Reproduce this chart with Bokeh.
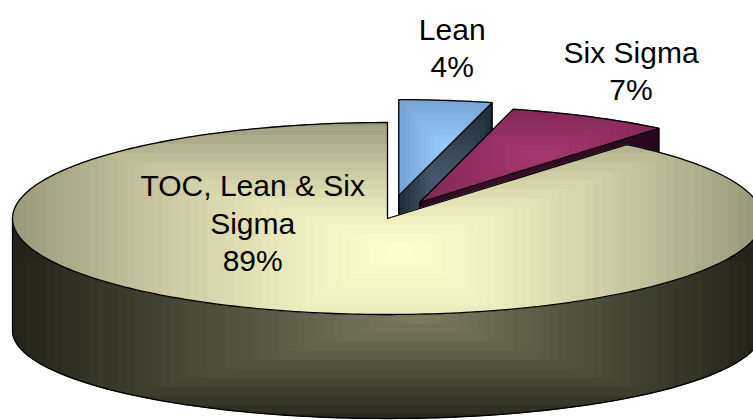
import math
import textwrap
import numpy as np
from bokeh.plotting import figure
from bokeh.models import Range1d, ColumnDataSource
from bokeh.core.properties import value
from bokeh.embed import file_html
from bokeh.resources import INLINE

# ---------------- data ----------------
categories = ["Lean", "Six Sigma", "TOC, Lean & Six Sigma"]
values = [4, 7, 89]

# ---------------- layout / style ----------------
W, H = 753, 420
CX, CY = 387.0, 218.0          # centre of top ellipse (page px)
A, B = 375.0, 96.0             # top ellipse semi axes
DEPTH, B_BOT = 112.0, 88.0     # pie thickness, bottom ellipse semi minor
START = 90.0                   # first slice starts at 12 o'clock, clockwise
explode = [0.24, 0.19, 0.0]

top_colors = [("#99ccff", "#729dcf"), ("#a8386f", "#7d2552"), ("#ffffcc", "#99987a")]
side_colors = [("#56687e", "#18222d"), ("#4d1232", "#22051a"), ("#7c7b60", "#24241a")]

MAIN_TOP_GRAD = dict(xc=CX + 15, yc=CY + 32, wl=390, wr=355, wt=130, wb=220, gamma=1.3)
MAIN_SIDE_GRAD = dict(xc=CX + 33, yc=CY + 100, wl=400, wr=330, wt=60, wb=105, gamma=1.0)

FS = 30.0
CAP = 0.72 * FS
LH = 1.25 * FS
CHW = 0.52 * FS
GAP_X, GAP_Y = 20.0, 34.0
INNER_LABEL_ANGLE, INNER_LABEL_R = 170.0, 0.365


def hex2rgb(h):
    h = h.lstrip("#")
    return tuple(int(h[i:i + 2], 16) for i in (0, 2, 4))


def mix(c1, c2, t):
    a, b = hex2rgb(c1), hex2rgb(c2)
    return "#%02x%02x%02x" % tuple(int(round(a[i] + (b[i] - a[i]) * t)) for i in range(3))


def clip_axis(pts, axis, lo, hi):
    def inter(p, c, bound):
        t = (bound - p[axis]) / (c[axis] - p[axis])
        return (p[0] + t * (c[0] - p[0]), p[1] + t * (c[1] - p[1]))

    def one(pts, keep, bound):
        out = []
        n = len(pts)
        for i in range(n):
            cur, prev = pts[i], pts[i - 1]
            ci, pi = keep(cur[axis]), keep(prev[axis])
            if ci:
                if not pi:
                    out.append(inter(prev, cur, bound))
                out.append(cur)
            elif pi:
                out.append(inter(prev, cur, bound))
        return out

    if len(pts) < 3:
        return []
    pts = one(pts, lambda v: v >= lo, lo)
    if len(pts) < 3:
        return []
    return one(pts, lambda v: v <= hi, hi)


def area(pts):
    s = 0.0
    for i in range(len(pts)):
        x1, y1 = pts[i - 1]
        x2, y2 = pts[i]
        s += x1 * y2 - x2 * y1
    return abs(s) / 2


def face_cells(poly, cell, light, dark, g):
    xs, ys, cols = [], [], []
    px = [q[0] for q in poly]
    py = [q[1] for q in poly]
    x0 = math.floor(min(px) / cell) * cell
    y0 = math.floor(min(py) / cell) * cell
    xa = x0
    while xa < max(px):
        strip = clip_axis(poly, 0, xa, xa + cell)
        if len(strip) >= 3:
            ya = y0
            while ya < max(py):
                c = clip_axis(strip, 1, ya, ya + cell)
                if len(c) >= 3 and area(c) > 0.05:
                    mx, my = xa + cell / 2, ya + cell / 2
                    dx = (mx - g["xc"]) / (g["wl"] if mx < g["xc"] else g["wr"])
                    dy = (my - g["yc"]) / (g["wt"] if my < g["yc"] else g["wb"])
                    t = min(1.0, max(abs(dx), abs(dy))) ** g["gamma"]
                    xs.append([q[0] for q in c])
                    ys.append([q[1] for q in c])
                    cols.append(mix(light, dark, t))
                ya += cell
        xa += cell
    return xs, ys, cols


def bbox_grad(poly):
    px = [q[0] for q in poly]
    py = [q[1] for q in poly]
    hx = (max(px) - min(px)) / 2 * 1.1 + 1
    hy = (max(py) - min(py)) / 2 * 1.1 + 1
    return dict(xc=(max(px) + min(px)) / 2, yc=(max(py) + min(py)) / 2,
                wl=hx, wr=hx, wt=hy, wb=hy, gamma=1.0)


p = figure(width=W, height=H, x_range=Range1d(0, W), y_range=Range1d(H, 0),
           output_backend="svg", toolbar_location=None,
           x_axis_location=None, y_axis_location=None, min_border=0,
           outline_line_color=None, background_fill_color="white",
           border_fill_color="white")
p.grid.visible = False


def draw_face(poly, cell, colors, grad):
    xs, ys, cols = face_cells(poly, cell, colors[0], colors[1], grad)
    if xs:
        src = ColumnDataSource(dict(xs=xs, ys=ys, c=cols))
        p.patches("xs", "ys", source=src, fill_color="c", line_color="c", line_width=1)
    p.patch([q[0] for q in poly], [q[1] for q in poly], fill_color=None,
            line_color="black", line_width=1.3, line_join="round")


total = float(sum(values))
slices = []
cum = 0.0
for i, v in enumerate(values):
    hi = START - cum * 360.0 / total
    lo = hi - v * 360.0 / total
    cum += v
    mid = (lo + hi) / 2
    ox = explode[i] * A * math.cos(math.radians(mid))
    oy = -explode[i] * B * math.sin(math.radians(mid))
    slices.append(dict(i=i, lo=lo, hi=hi, mid=mid, ox=ox, oy=oy))

labels_x, labels_y, labels_t = [], [], []

for s in sorted(slices, key=lambda s: -math.sin(math.radians(s["mid"]))):
    i, lo, hi, ox, oy = s["i"], s["lo"], s["hi"], s["ox"], s["oy"]
    main = explode[i] == 0

    def top(th):
        r = math.radians(th)
        return (CX + ox + A * math.cos(r), CY + oy - B * math.sin(r))

    def bot(th):
        r = math.radians(th)
        return (CX + ox + A * math.cos(r), CY + oy + DEPTH - B_BOT * math.sin(r))

    tc = (CX + ox, CY + oy)
    bc = (CX + ox, CY + oy + DEPTH)

    # cut faces facing the viewer
    for th, vis in ((lo, math.cos(math.radians(lo)) > 0.01), (hi, math.cos(math.radians(hi)) < -0.01)):
        if vis:
            poly = [tc, top(th), bot(th), bc]
            draw_face(poly, 5, side_colors[i], bbox_grad(poly))
    # outer wall (front half)
    for k in (-1, 0, 1):
        a0, a1 = max(lo, -180 + 360 * k), min(hi, 360 * k)
        if a1 > a0:
            n = max(3, int((a1 - a0) / 1.0))
            ths = np.linspace(a0, a1, n)
            poly = [top(t) for t in ths] + [bot(t) for t in ths[::-1]]
            g = MAIN_SIDE_GRAD if main else bbox_grad(poly)
            draw_face(poly, 9, side_colors[i], g)
    # top face
    n = max(3, int((hi - lo) / 1.0))
    poly = [tc] + [top(t) for t in np.linspace(lo, hi, n)]
    g = MAIN_TOP_GRAD if main else bbox_grad(poly)
    draw_face(poly, 9 if main else 5, top_colors[i], g)

    # label
    lines = textwrap.wrap(categories[i], 15) + ["%d%%" % round(values[i] / total * 100)]
    hw = max(len(l) for l in lines) * CHW / 2
    hh = (CAP + (len(lines) - 1) * LH) / 2
    if main:
        r = math.radians(INNER_LABEL_ANGLE)
        bx = CX + INNER_LABEL_R * A * math.cos(r)
        by = CY - INNER_LABEL_R * B * math.sin(r)
    else:
        m = math.radians(s["mid"])
        rx, ry = top(s["mid"])
        bx = rx + (GAP_X + hw) * math.cos(m)
        by = ry - (GAP_Y + hh) * math.sin(m)
    for j, l in enumerate(lines):
        labels_x.append(bx)
        labels_y.append(by - hh + CAP + j * LH)
        labels_t.append(l)

p.text(x=labels_x, y=labels_y, text=labels_t, text_align="center",
       text_baseline="alphabetic", text_font=value("Liberation Sans"),
       text_font_size="%dpx" % FS, text_color="black")

open("out.html", "w").write(file_html(p, INLINE))
